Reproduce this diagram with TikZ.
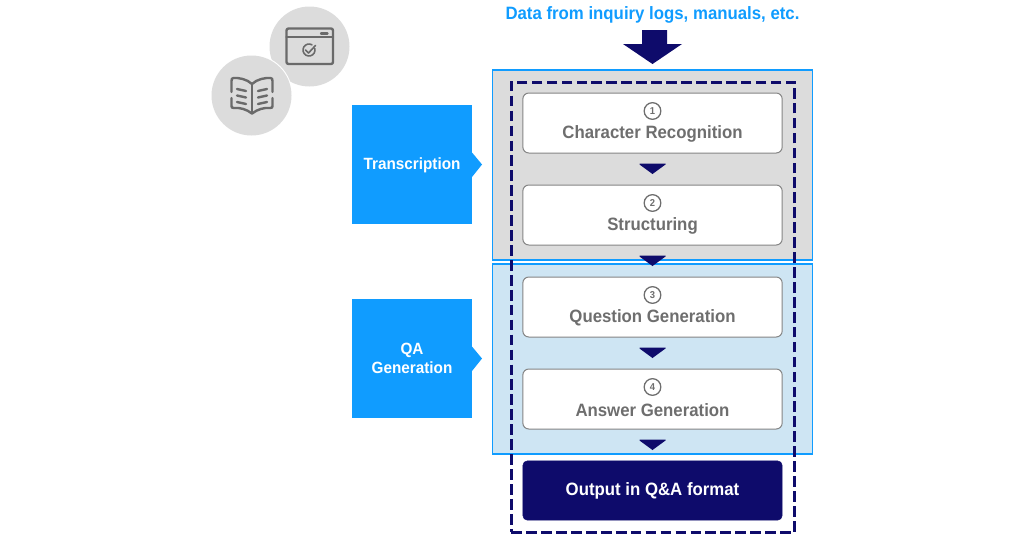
\documentclass[tikz,border=0pt]{standalone}
\usepackage{fontspec}
\setmainfont{Liberation Sans}[FakeStretch=0.94]
\definecolor{navy}{HTML}{0E0B6B}
\definecolor{sky}{HTML}{109CFF}
\definecolor{panelgray}{HTML}{DCDCDC}
\definecolor{panelblue}{HTML}{CEE5F3}
\definecolor{textgray}{HTML}{6E6E6E}
\definecolor{icongray}{HTML}{6A6A6A}
\tikzset{
  x=0.75pt,y=-0.75pt,
  panel/.style={draw=sky,line width=0.9pt,inner sep=0pt},
  stepbox/.style={draw=textgray!85,fill=white,line width=0.75pt,rounded corners=4.5pt,minimum width=194.5pt,minimum height=45pt,inner sep=0pt},
  outbox/.style={fill=navy,draw=navy,rounded corners=3.5pt,minimum width=194.5pt,minimum height=44.5pt,inner sep=0pt,text=white,font=\bfseries\fontsize{13.4}{15}\selectfont},
  sidebox/.style={fill=sky,minimum width=90pt,minimum height=89.5pt,inner sep=0pt},
  sidelabel/.style={text=white,align=center,inner sep=0pt,font=\bfseries\fontsize{12.2}{13.7}\selectfont},
  steplabel/.style={text=textgray,font=\bfseries\fontsize{13.4}{15}\selectfont,inner sep=0pt},
  numlabel/.style={draw=textgray,line width=0.95pt,circle,minimum size=12.5pt,inner sep=0pt,text=textgray,font=\bfseries\fontsize{7.5}{8}\selectfont},
  tri/.style={fill=navy,draw=none},
  icon/.style={draw=icongray,line width=1.8pt,line cap=round,line join=round},
}
\begin{document}
\begin{tikzpicture}
\useasboundingbox (0,0) rectangle (1024,540);
% icons' discs
\fill[panelgray] (309.5,46.5) circle[radius=30pt];
\fill[white] (251.5,95.5) circle[radius=30.8pt];
\fill[panelgray] (251.5,95.5) circle[radius=30pt];
% window icon
\draw[icon,rounded corners=1.5pt] (286.5,28.5) rectangle (333,64);
\draw[icon] (286.5,37) -- (333,37);
\draw[icon] (321,33.5) -- (327.5,33.5);
\draw[icon,line width=1.2pt] (312,44.8) arc[start angle=-60,end angle=-375,radius=6];
\draw[icon,line width=1.2pt] (305.5,50) -- (308.5,53) -- (315.5,45.5);
% book icon
\draw[icon] (252,84) .. controls (247,79) and (238,77.5) .. (233.5,78) .. controls (232,78) and (231.5,79) .. (231.5,81) -- (231.5,92);
\draw[icon] (252,84) .. controls (257,79) and (266,77.5) .. (270.5,78) .. controls (272,78) and (272.5,79) .. (272.5,81) -- (272.5,92);
\draw[icon] (231.5,98) -- (231.5,106) .. controls (231.5,107.5) and (232,108) .. (234,108) .. controls (240,107.5) and (246,109) .. (252,113.5);
\draw[icon] (272.5,98) -- (272.5,106) .. controls (272.5,107.5) and (272,108) .. (270,108) .. controls (264,107.5) and (258,109) .. (252,113.5);
\draw[icon] (252,84) -- (252,113);
\draw[icon] (237,89) -- (246,91);
\draw[icon] (237,95.5) -- (246,97.5);
\draw[icon] (237,102) -- (246,104);
\draw[icon] (267,89) -- (258,91);
\draw[icon] (267,95.5) -- (258,97.5);
\draw[icon] (267,102) -- (258,104);
% title and big arrow
\node[text=sky,font=\bfseries\fontsize{13.4}{15}\selectfont,inner sep=0pt] (title) at (652.5,14.5) {Data from inquiry logs, manuals, etc.};
\fill[tri] (642,30) -- (667,30) -- (667,44) -- (682,44) -- (652.5,64) -- (623,44) -- (642,44) -- cycle;
% panels
\node[panel,fill=panelgray,minimum width=240pt,minimum height=142.5pt] (pa) at (652.5,165) {};
\node[panel,fill=panelblue,minimum width=240pt,minimum height=142.5pt] (pb) at (652.5,359) {};
% steps
\node[stepbox] (s1) at (652.5,123) {};
\node[stepbox] (s2) at (652.5,215) {};
\node[stepbox] (s3) at (652.5,307) {};
\node[stepbox] (s4) at (652.5,399) {};
\node[outbox] (out) at (652.5,490.5) {Output in Q\&A format};
\node[numlabel] (n1) at (652.5,111) {1};
\node[numlabel] (n2) at (652.5,203) {2};
\node[numlabel] (n3) at (652.5,295) {3};
\node[numlabel] (n4) at (652.5,387) {4};
\node[steplabel] (l1) at (652.5,134) {Character Recognition};
\node[steplabel] (l2) at (652.5,226) {Structuring};
\node[steplabel] (l3) at (652.5,318) {Question Generation};
\node[steplabel] (l4) at (652.5,410) {Answer Generation};
% small triangles
\foreach \y in {163.5,255.5,347.5,439.5}{
  \fill[tri] (639.5,\y) -- (665.5,\y) -- (665.5,\y+1) -- (652.5,\y+10.5) -- (639.5,\y+1) -- cycle;
}
% dashed frame
\node[draw=navy,line width=2.25pt,dash pattern=on 8pt off 3.2pt,minimum width=212.5pt,minimum height=337.5pt,inner sep=0pt] (frame) at (653,307) {};
% side boxes
\fill[sky] (472,152.5) -- (482,164.5) -- (472,177) -- cycle;
\fill[sky] (472,346.5) -- (482,358.5) -- (472,371) -- cycle;
\node[sidebox] (t) at (412,164.5) {};
\node[sidebox] (q) at (412,358.5) {};
\node[sidelabel] (tl) at (412,165) {Transcription};
\node[sidelabel] (ql) at (412,358.5) {QA\\Generation};
\end{tikzpicture}
\end{document}
